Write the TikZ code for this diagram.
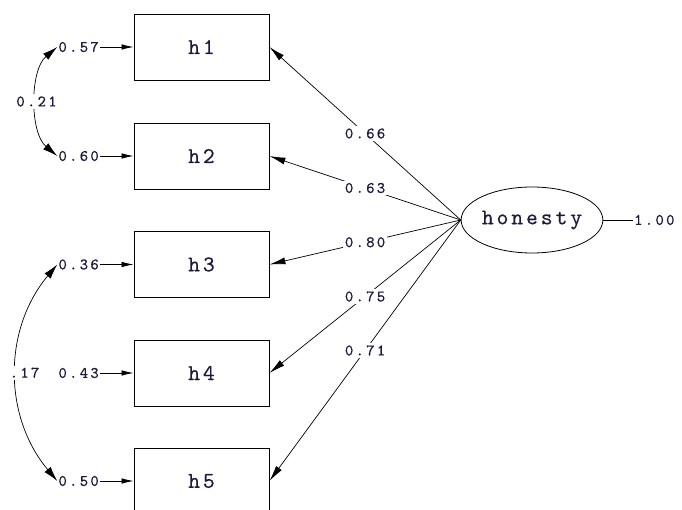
\documentclass[tikz,border=0pt]{standalone}
\usepackage{fontspec}
\usetikzlibrary{arrows.meta,shapes.geometric}
\newfontfamily\lblface{lmmono10-regular.otf}[LetterSpace=14,FakeBold=0.6]
\newfontfamily\boxface{lmmono10-regular.otf}[LetterSpace=13,FakeBold=0.3]
\newcommand\lblfont{\lblface\fontsize{16}{16}\selectfont}
\newcommand\boxfont{\boxface\fontsize{22.5}{22.5}\selectfont}
\definecolor{txt}{RGB}{30,25,60}
\begin{document}
\begin{tikzpicture}[x=1pt,y=1pt,
 obs/.style={draw, line width=0.9pt, minimum width=135pt, minimum height=66pt, inner sep=0pt, font=\boxfont, text=txt},
 lat/.style={ellipse, draw, line width=0.8pt, minimum width=132pt, minimum height=66pt, inner sep=0pt, font=\boxfont, text=txt},
 num/.style={font=\lblfont, text=txt, inner sep=1pt},
 numw/.style={num, fill=white, inner sep=2pt},
 load/.style={line width=0.7pt, -{Latex[length=16pt,width=7pt]}},
 err/.style={line width=0.7pt, -{Latex[length=12pt,width=5.5pt]}},
 cov/.style={line width=0.7pt, {Latex[length=15pt,width=8pt]}-{Latex[length=15pt,width=8pt]}},
 plain/.style={line width=0.7pt}
]
\useasboundingbox (0,0) rectangle (682,-510);
\node[obs] (h1) at (201.5,-47) {h1};
\node[obs] (h2) at (201.5,-156) {h2};
\node[obs] (h3) at (201.5,-264.5) {h3};
\node[obs] (h4) at (201.5,-373) {h4};
\node[obs] (h5) at (201.5,-481) {h5};
\node[lat] (hon) at (532,-220) {honesty};
\node[num, anchor=west] (v) at (633,-220) {1.00};
\draw[plain] (hon.east) -- (v.west);
\node[num, anchor=east] (e1) at (100,-47) {0.57};
\node[num, anchor=east] (e2) at (100,-156) {0.60};
\node[num, anchor=east] (e3) at (100,-264.5) {0.36};
\node[num, anchor=east] (e4) at (100,-373) {0.43};
\node[num, anchor=east] (e5) at (100,-481) {0.50};
\foreach \i in {1,...,5} {\draw[err] (e\i.east) -- (h\i.west);}
\draw[cov] (e1.west) to[out=220,in=140,looseness=0.85] node[numw]{0.21} (e2.west);
\draw[cov] (e3.west) to[out=230,in=130,looseness=1] node[numw,xshift=8pt]{.17} (e5.west);
\draw[load] (hon.west) -- node[numw]{0.66} (h1.east);
\draw[load] (hon.west) -- node[numw]{0.63} (h2.east);
\draw[load] (hon.west) -- node[numw]{0.80} (h3.east);
\draw[load] (hon.west) -- node[numw]{0.75} (h4.east);
\draw[load] (hon.west) -- node[numw]{0.71} (h5.east);
\end{tikzpicture}
\end{document}
